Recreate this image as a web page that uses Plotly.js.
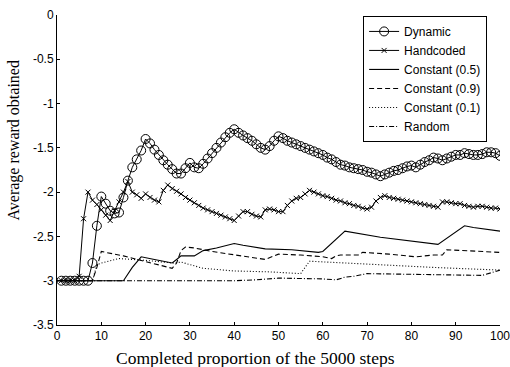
<!DOCTYPE html>
<html>
<head>
<meta charset="utf-8">
<script src="https://cdn.plot.ly/plotly-3.0.1.min.js"></script>
<style>html,body{margin:0;padding:0;background:#fff}#chart{width:510px;height:367px}</style>
</head>
<body>
<div id="chart"></div>
<script>
// Steps 1..100 for marker series
var steps = [];
for (var i = 1; i <= 100; i++) steps.push(i);

var dynamicY = [
 -3,-3,-3,-3,-3,-3,-3,-2.80,-2.38,-2.05,
 -2.13,-2.21,-2.24,-2.23,-2.06,-1.87,-1.72,-1.63,-1.53,-1.40,
 -1.45,-1.52,-1.58,-1.64,-1.69,-1.74,-1.79,-1.79,-1.73,-1.67,
 -1.72,-1.73,-1.68,-1.62,-1.56,-1.50,-1.44,-1.38,-1.33,-1.29,
 -1.33,-1.36,-1.39,-1.42,-1.46,-1.50,-1.52,-1.48,-1.42,-1.37,
 -1.39,-1.42,-1.44,-1.46,-1.48,-1.50,-1.52,-1.54,-1.56,-1.58,
 -1.61,-1.63,-1.66,-1.69,-1.70,-1.72,-1.73,-1.74,-1.75,-1.77,
 -1.78,-1.80,-1.82,-1.80,-1.78,-1.76,-1.75,-1.73,-1.71,-1.70,
 -1.72,-1.69,-1.66,-1.64,-1.61,-1.62,-1.64,-1.62,-1.60,-1.58,
 -1.58,-1.56,-1.57,-1.58,-1.58,-1.57,-1.55,-1.55,-1.56,-1.59
];

var handcodedY = [
 -3,-3,-3,-3,-2.95,-2.30,-2.00,-2.09,-2.14,-2.20,
 -2.26,-2.32,-2.21,-2.11,-2.00,-1.88,-2.00,-2.03,-2.07,-2.02,
 -2.06,-2.09,-2.11,-1.98,-1.92,-1.96,-1.99,-2.02,-2.06,-2.09,
 -2.12,-2.15,-2.18,-2.20,-2.22,-2.24,-2.26,-2.28,-2.30,-2.32,
 -2.27,-2.22,-2.22,-2.25,-2.27,-2.28,-2.20,-2.19,-2.20,-2.22,
 -2.22,-2.15,-2.10,-2.07,-2.06,-2.02,-1.98,-2.00,-2.02,-2.04,
 -2.05,-2.07,-2.09,-2.10,-2.12,-2.13,-2.15,-2.16,-2.18,-2.19,
 -2.17,-2.10,-2.06,-2.04,-2.06,-2.07,-2.08,-2.09,-2.10,-2.11,
 -2.12,-2.13,-2.14,-2.15,-2.16,-2.17,-2.11,-2.11,-2.12,-2.13,
 -2.13,-2.15,-2.16,-2.17,-2.16,-2.16,-2.17,-2.18,-2.18,-2.19
];

var c05X = [0,15,17,19,22,26,27,28,31,33,36,40,42,47,53,59,60,65,73,86,92,94,100];
var c05Y = [-3,-3,-2.85,-2.73,-2.76,-2.80,-2.76,-2.72,-2.72,-2.66,-2.63,-2.58,-2.60,-2.64,-2.65,-2.68,-2.67,-2.44,-2.51,-2.59,-2.38,-2.40,-2.44];

var c09X = [0,8,9,10,15,20,26,27,28,29,31,35,40,47,50,55,60,62,63,64,68,69,75,81,85,87,88,92,100];
var c09Y = [-3,-3,-2.85,-2.67,-2.72,-2.78,-2.86,-2.80,-2.66,-2.62,-2.63,-2.67,-2.71,-2.76,-2.70,-2.71,-2.73,-2.75,-2.72,-2.71,-2.71,-2.68,-2.70,-2.73,-2.71,-2.71,-2.65,-2.66,-2.68];

var c01X = [0,8,9,10,14,20,26,28,33,40,48,55,57,65,74,85,100];
var c01Y = [-3,-3,-2.82,-2.80,-2.75,-2.77,-2.80,-2.79,-2.86,-2.89,-2.90,-2.92,-2.78,-2.80,-2.83,-2.85,-2.88];

var randX = [0,40,45,50,60,63,65,67,70,84,90,96,100];
var randY = [-3,-3,-2.99,-2.97,-2.98,-2.99,-2.96,-2.95,-2.92,-2.93,-2.94,-2.94,-2.88];

var names = ['Dynamic','Handcoded','Constant (0.5)','Constant (0.9)','Constant (0.1)','Random'];

var yTickVals = [0,-0.5,-1,-1.5,-2,-2.5,-3,-3.5];
var yTickText = ['0','-0.5','-1','-1.5','-2','-2.5','-3','-3.5'];
var xTickVals = [0,10,20,30,40,50,60,70,80,90,100];
var xTickText = ['0','10','20','30','40','50','60','70','80','90','100'];

var xTitle = 'Completed proportion of the 5000 steps';
var yTitle = 'Average reward obtained';

var traces = [
 {x: steps, y: dynamicY, name: names[0], mode: 'lines+markers', type: 'scatter',
  line: {color: '#000', width: 1},
  marker: {symbol: 'circle-open', size: 9, color: '#000', line: {width: 1, color: '#000'}}},
 {x: steps, y: handcodedY, name: names[1], mode: 'lines+markers', type: 'scatter',
  line: {color: '#000', width: 1},
  marker: {symbol: 'x-thin-open', size: 5, color: '#000', line: {width: 1, color: '#000'}}},
 {x: c05X, y: c05Y, name: names[2], mode: 'lines', type: 'scatter',
  line: {color: '#000', width: 1.1}},
 {x: c09X, y: c09Y, name: names[3], mode: 'lines', type: 'scatter',
  line: {color: '#000', width: 1.1, dash: '5px,3px'}},
 {x: c01X, y: c01Y, name: names[4], mode: 'lines', type: 'scatter',
  line: {color: '#000', width: 1.1, dash: '1px,2px'}},
 {x: randX, y: randY, name: names[5], mode: 'lines', type: 'scatter',
  line: {color: '#000', width: 1.1, dash: '5px,2px,1px,2px'}}
];

var tickFont = {family: 'Liberation Sans, Arial, sans-serif', size: 12, color: '#000'};

var layout = {
 width: 510, height: 367,
 margin: {l: 57, r: 10, t: 15, b: 42},
 paper_bgcolor: '#fff', plot_bgcolor: '#fff',
 showlegend: true,
 legend: {x: 0.691, y: 0.997, xanchor: 'left', yanchor: 'top',
  bgcolor: '#fff', bordercolor: '#000', borderwidth: 1,
  font: {family: 'Liberation Sans, Arial, sans-serif', size: 12, color: '#000'},
  tracegroupgap: 0},
 xaxis: {range: [0, 100], tickvals: xTickVals, ticktext: xTickText,
  showgrid: false, zeroline: false, showline: true, linecolor: '#000', linewidth: 1,
  mirror: false, ticks: 'inside', ticklen: 3, tickcolor: '#000',
  ticklabeloverflow: 'allow', tickfont: tickFont},
 yaxis: {range: [-3.5, 0], tickvals: yTickVals, ticktext: yTickText,
  showgrid: false, zeroline: false, showline: true, linecolor: '#000', linewidth: 1,
  mirror: false, ticks: 'inside', ticklen: 3, tickcolor: '#000',
  ticklabeloverflow: 'allow', tickfont: tickFont},
 annotations: [
  {text: xTitle, xref: 'paper', yref: 'paper', x: 0.447, y: -0.106,
   xanchor: 'center', yanchor: 'middle', showarrow: false,
   font: {family: 'Liberation Serif, Times New Roman, serif', size: 17.5, color: '#000'}},
  {text: yTitle, xref: 'paper', yref: 'paper', x: -0.097, y: 0.595,
   xanchor: 'center', yanchor: 'middle', showarrow: false, textangle: -90,
   font: {family: 'Liberation Serif, Times New Roman, serif', size: 16, color: '#000'}}
 ]
};

Plotly.newPlot('chart', traces, layout, {displayModeBar: false, staticPlot: true});
</script>
</body>
</html>
